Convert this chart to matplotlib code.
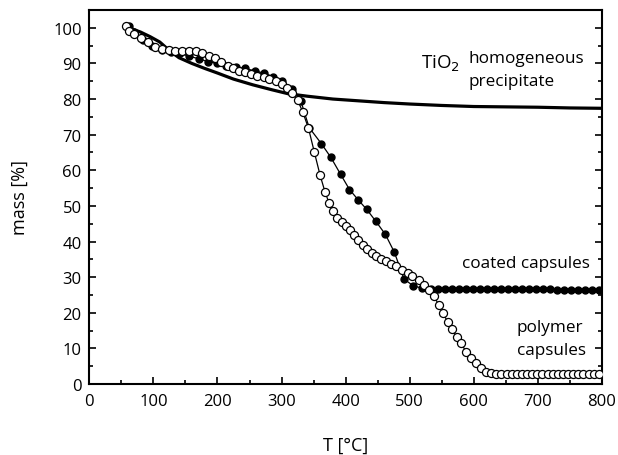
import numpy as np
import matplotlib
matplotlib.use("Agg")
import matplotlib.pyplot as plt
from matplotlib.ticker import MultipleLocator

plt.rcParams['font.family'] = ['Open Sans', 'DejaVu Sans']

# TiO2 homogeneous precipitate (solid line)
tio2_T = [65, 80, 95, 110, 125, 140, 160, 180, 200, 225, 255, 285, 310, 340,
          380, 420, 460, 500, 550, 600, 650, 700, 750, 800]
tio2_m = [99.8, 98.8, 97.5, 96.0, 93.6, 91.6, 90.0, 88.6, 87.3, 85.6, 84.0, 82.6,
          81.5, 80.8, 80.0, 79.5, 79.0, 78.6, 78.2, 77.9, 77.8, 77.7, 77.5, 77.4]

# coated capsules (filled circles)
coat_T = [62, 69, 84, 98, 113, 127, 142, 156, 171, 185, 200, 214, 229, 243, 258,
          272, 287, 301, 316, 330, 343, 362, 377, 392, 406, 420, 433, 447, 462,
          476, 491, 505, 519, 533, 544, 555, 566, 577, 588, 599, 610, 620, 631,
          642, 653, 664, 675, 686, 697, 708, 719, 730, 741, 751, 762, 773, 784, 795]
coat_m = [100.5, 98.8, 96.6, 95.0, 93.8, 93.2, 92.8, 92.0, 91.3, 90.5, 90.0, 89.4,
          88.9, 88.6, 87.9, 87.3, 86.3, 85.0, 82.8, 79.5, 72.0, 67.5, 63.6, 58.9,
          54.6, 51.6, 49.0, 45.7, 42.0, 37.0, 29.5, 27.6, 26.9, 26.7, 26.7, 26.7,
          26.7, 26.7, 26.7, 26.7, 26.7, 26.7, 26.6, 26.6, 26.6, 26.6, 26.6, 26.6,
          26.6, 26.6, 26.6, 26.5, 26.5, 26.5, 26.5, 26.5, 26.5, 26.5]

# polymer capsules (open circles)
poly_T = [57, 62, 70, 80, 91, 103, 113, 124, 134, 145, 155, 166, 176, 186, 196,
          206, 216, 225, 234, 243, 253, 262, 272, 281, 291, 300, 308, 316, 325,
          333, 342, 351, 360, 368, 374, 381, 387, 394, 400, 407, 413, 420, 427,
          434, 441, 448, 455, 463, 471, 479, 488, 497, 504, 514, 523, 530, 538,
          545, 552, 559, 566, 573, 580, 588, 595, 603, 611, 619, 627, 635, 643,
          651, 659, 667, 675, 683, 691, 699, 707, 715, 723, 731, 739, 747, 755,
          763, 771, 779, 787, 795]
poly_m = [100.6, 99.2, 98.3, 97.0, 96.0, 94.7, 94.0, 93.8, 93.6, 93.5, 93.4, 93.4,
          92.9, 92.2, 91.5, 90.5, 89.4, 88.6, 88.0, 87.5, 86.9, 86.6, 86.2, 85.6,
          85.0, 84.1, 83.0, 81.7, 79.7, 76.4, 71.8, 65.2, 58.7, 53.8, 50.9, 48.5,
          46.7, 45.4, 44.3, 43.2, 41.8, 40.4, 39.1, 37.9, 36.9, 35.9, 35.0, 34.4,
          33.6, 33.0, 32.1, 31.2, 30.2, 29.1, 27.9, 26.5, 24.6, 22.3, 19.9, 17.5,
          15.4, 13.3, 11.4, 9.1, 7.2, 5.8, 4.4, 3.5, 3.1, 2.9, 2.8, 2.8, 2.8, 2.8,
          2.8, 2.8, 2.8, 2.8, 2.8, 2.8, 2.8, 2.8, 2.8, 2.8, 2.8, 2.8, 2.8, 2.8,
          2.8, 2.8]

fig = plt.figure(figsize=(6.18, 4.56), dpi=100)
ax = fig.add_axes([0.1445, 0.1557, 0.8296, 0.8202])

ax.plot(tio2_T, tio2_m, color='black', lw=2.3, zorder=2)
ax.plot(coat_T, coat_m, '-o', color='black', lw=0.9, ms=5.0,
        mfc='black', mec='black', zorder=3)
ax.plot(poly_T, poly_m, '-o', color='black', lw=0.9, ms=5.8,
        mfc='white', mec='black', mew=0.9, zorder=4)

ax.set_xlim(0, 800)
ax.set_ylim(0, 105)
ax.xaxis.set_major_locator(MultipleLocator(100))
ax.xaxis.set_minor_locator(MultipleLocator(50))
ax.yaxis.set_major_locator(MultipleLocator(10))
ax.yaxis.set_minor_locator(MultipleLocator(5))
ax.tick_params(which='both', direction='in', top=False, right=True,
               labelsize=12, width=1.2)
ax.tick_params(which='major', length=5)
ax.tick_params(which='minor', length=3)
ax.tick_params(axis='x', pad=6.5)
ax.tick_params(axis='y', pad=5.5)
for s in ax.spines.values():
    s.set_linewidth(1.5)

ax.set_xlabel('T [°C]', fontsize=13)
ax.set_ylabel('mass [%]', fontsize=13)
ax.xaxis.label.set_va('center')
ax.yaxis.label.set_va('center')
ax.xaxis.set_label_coords(0.5, -0.163)
ax.yaxis.set_label_coords(-0.135, 0.5)

ax.text(518, 88.7, 'TiO$_2$', fontsize=13.5, ha='left', va='baseline')
ax.text(591, 90.4, 'homogeneous', fontsize=12.3, ha='left', va='baseline')
ax.text(591, 84.0, 'precipitate', fontsize=12.3, ha='left', va='baseline')
ax.text(781, 32.9, 'coated capsules', fontsize=12.3, ha='right', va='baseline')
ax.text(667, 15.0, 'polymer', fontsize=12.3, ha='left', va='baseline')
ax.text(667, 8.45, 'capsules', fontsize=12.3, ha='left', va='baseline')

fig.savefig('out.png', dpi=100)
